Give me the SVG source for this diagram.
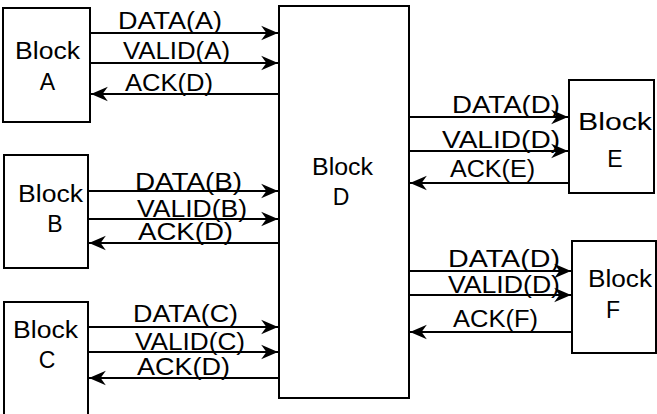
<svg xmlns="http://www.w3.org/2000/svg" width="657" height="414" viewBox="0 0 657 414">
<style>
.box{fill:#fff;stroke:#000;stroke-width:2}
.w{stroke:#000;stroke-width:2;fill:none;marker-end:url(#ah)}
text{font-family:"Liberation Sans",Arial,sans-serif;font-size:23px;fill:#000}
.m{text-anchor:middle}
</style>
<defs>
<marker id="ah" markerUnits="userSpaceOnUse" markerWidth="20" markerHeight="20" viewBox="-17 -9 19 18" refX="0" refY="0" orient="auto">
<path d="M0,0 L-16,-7 L-11,0 L-16,7 Z" fill="#000"/>
</marker>
</defs>
<rect width="657" height="414" fill="#fff"/>
<g id="blockA"><rect class="box" x="3" y="8" width="87" height="114"/><text x="15" y="59" textLength="65" lengthAdjust="spacingAndGlyphs">Block</text><text class="m" x="47.5" y="90">A</text></g>
<g id="blockB"><rect class="box" x="4" y="155" width="84" height="113"/><text x="18" y="202" textLength="65" lengthAdjust="spacingAndGlyphs">Block</text><text class="m" x="55" y="232">B</text></g>
<g id="blockC"><rect class="box" x="4" y="302" width="84" height="125"/><text x="13" y="338" textLength="65" lengthAdjust="spacingAndGlyphs">Block</text><text class="m" x="47" y="368">C</text></g>
<g id="blockD"><rect class="box" x="279" y="6" width="130" height="392"/><text x="312" y="175" textLength="61" lengthAdjust="spacingAndGlyphs">Block</text><text class="m" x="341" y="205">D</text></g>
<g id="blockE"><rect class="box" x="569" y="80" width="85" height="113"/><text x="578" y="130" textLength="74" lengthAdjust="spacingAndGlyphs">Block</text><text class="m" x="615" y="167">E</text></g>
<g id="blockF"><rect class="box" x="572" y="241" width="84" height="112"/><text x="588" y="287" textLength="64" lengthAdjust="spacingAndGlyphs">Block</text><text class="m" x="613" y="318">F</text></g>
<g id="connectors">
<line class="w" x1="90" y1="33" x2="278" y2="33"/>
<line class="w" x1="90" y1="63" x2="278" y2="63"/>
<line class="w" x1="278" y1="94" x2="91" y2="94"/>
<line class="w" x1="88" y1="191" x2="278" y2="191"/>
<line class="w" x1="88" y1="219" x2="278" y2="219"/>
<line class="w" x1="278" y1="243" x2="89" y2="243"/>
<line class="w" x1="88" y1="327" x2="278" y2="327"/>
<line class="w" x1="88" y1="352" x2="278" y2="352"/>
<line class="w" x1="278" y1="378" x2="89" y2="378"/>
<line class="w" x1="409" y1="117" x2="568" y2="117"/>
<line class="w" x1="409" y1="151" x2="568" y2="151"/>
<line class="w" x1="569" y1="183" x2="410" y2="183"/>
<line class="w" x1="409" y1="271" x2="571" y2="271"/>
<line class="w" x1="409" y1="295" x2="571" y2="295"/>
<line class="w" x1="572" y1="332" x2="410" y2="332"/>
<text x="118" y="29" textLength="104" lengthAdjust="spacingAndGlyphs">DATA(A)</text>
<text x="123" y="59" textLength="107" lengthAdjust="spacingAndGlyphs">VALID(A)</text>
<text x="125" y="91" textLength="88" lengthAdjust="spacingAndGlyphs">ACK(D)</text>
<text x="135" y="190" textLength="107" lengthAdjust="spacingAndGlyphs">DATA(B)</text>
<text x="137" y="217" textLength="110" lengthAdjust="spacingAndGlyphs">VALID(B)</text>
<text x="138" y="240" textLength="95" lengthAdjust="spacingAndGlyphs">ACK(D)</text>
<text x="133" y="322" textLength="105" lengthAdjust="spacingAndGlyphs">DATA(C)</text>
<text x="135" y="350" textLength="110" lengthAdjust="spacingAndGlyphs">VALID(C)</text>
<text x="137" y="375" textLength="93" lengthAdjust="spacingAndGlyphs">ACK(D)</text>
<text x="452" y="113" textLength="108" lengthAdjust="spacingAndGlyphs">DATA(D)</text>
<text x="442" y="148" textLength="118" lengthAdjust="spacingAndGlyphs">VALID(D)</text>
<text x="450" y="177" textLength="85" lengthAdjust="spacingAndGlyphs">ACK(E)</text>
<text x="448" y="267" textLength="112" lengthAdjust="spacingAndGlyphs">DATA(D)</text>
<text x="448" y="293" textLength="112" lengthAdjust="spacingAndGlyphs">VALID(D)</text>
<text x="453" y="327" textLength="85" lengthAdjust="spacingAndGlyphs">ACK(F)</text>
</g>
</svg>
